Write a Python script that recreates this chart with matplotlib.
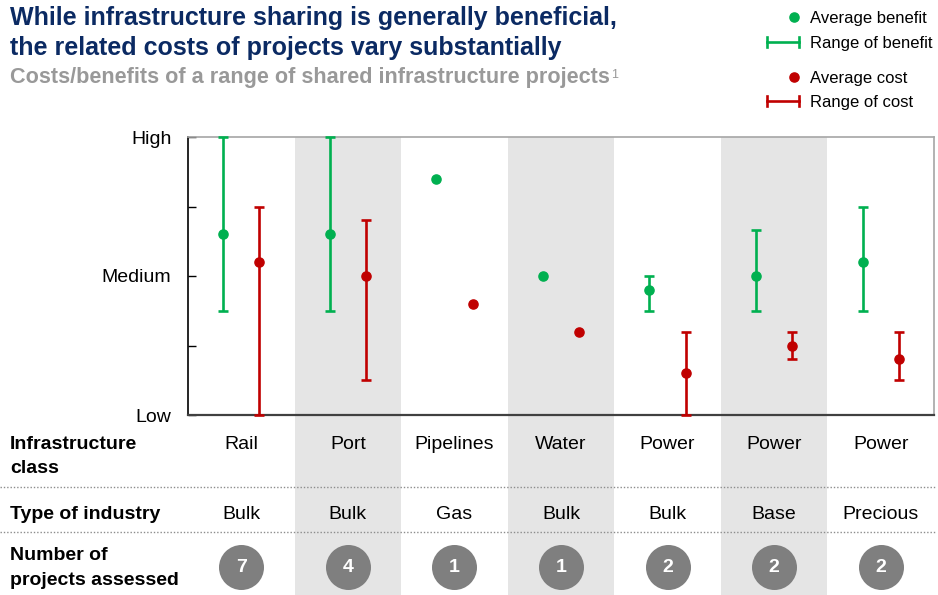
import matplotlib
matplotlib.use("Agg")
import matplotlib.pyplot as plt
import matplotlib.transforms as mtransforms
from matplotlib.patches import Rectangle
from matplotlib.lines import Line2D
import numpy as np

plt.rcParams['font.family'] = ['Liberation Sans', 'DejaVu Sans']

# ---- data -------------------------------------------------------------
infra_class = ["Rail", "Port", "Pipelines", "Water", "Power", "Power", "Power"]
industry = ["Bulk", "Bulk", "Gas", "Bulk", "Bulk", "Base", "Precious"]
n_projects = [7, 4, 1, 1, 2, 2, 2]

# scale: 0 = Low, 2 = Medium, 4 = High
benefit_avg = [2.6, 2.6, 3.4, 2.0, 1.8, 2.0, 2.2]
benefit_lo = [1.5, 1.5, None, None, 1.5, 1.5, 1.5]
benefit_hi = [4.0, 4.0, None, None, 2.0, 2.66, 3.0]

cost_avg = [2.2, 2.0, 1.6, 1.2, 0.6, 1.0, 0.8]
cost_lo = [0.0, 0.5, None, None, 0.0, 0.8, 0.5]
cost_hi = [3.0, 2.8, None, None, 1.2, 1.2, 1.2]

y_tick_labels = ["Low", "", "Medium", "", "High"]

# ---- style ------------------------------------------------------------
GREEN = "#00B050"
RED = "#C00000"
NAVY = "#0B2A63"
SUBGREY = "#999999"
SHADE = "#E5E5E5"
CIRCLE = "#7F7F7F"

W, H = 938, 595
fig = plt.figure(figsize=(W / 100, H / 100), dpi=100)


def fx(px):
    return px / W


def fy(py):
    return 1 - py / H


ax_left, ax_right, ax_top, ax_bottom = 188, 934, 137, 415
ax = fig.add_axes([fx(ax_left), fy(ax_bottom), fx(ax_right - ax_left),
                   (ax_bottom - ax_top) / H])

n = len(infra_class)
xs = np.arange(n)
off = 0.17
ax.set_xlim(-0.5, n - 0.5)
ax.set_ylim(0, 4)

# alternating column shading, running from the plot top down through the table
col_tr = mtransforms.blended_transform_factory(ax.transData, fig.transFigure)
for i in range(n):
    if i % 2 == 1:
        ax.add_patch(Rectangle((i - 0.5, 0), 1, fy(ax_top), transform=col_tr,
                               facecolor=SHADE, edgecolor="none",
                               clip_on=False, zorder=0))

lw = 1.9
for vals, lo, hi, color, dx in [
        (benefit_avg, benefit_lo, benefit_hi, GREEN, -off),
        (cost_avg, cost_lo, cost_hi, RED, off)]:
    for i in range(n):
        if lo[i] is not None:
            ax.errorbar(xs[i] + dx, vals[i],
                        yerr=[[vals[i] - lo[i]], [hi[i] - vals[i]]],
                        fmt="none", ecolor=color, elinewidth=lw,
                        capsize=3.6, capthick=lw, clip_on=False, zorder=3)
    ax.plot(xs + dx, vals, "o", color=color, markersize=6.6,
            linestyle="none", zorder=4, clip_on=False)

ax.set_yticks(range(5))
ax.set_yticklabels(y_tick_labels, fontsize=14)
ax.set_xticks([])
ax.tick_params(axis="y", direction="in", length=6, width=1, pad=12,
               color="black")
for side in ["top", "right"]:
    ax.spines[side].set_color("#A6A6A6")
    ax.spines[side].set_linewidth(1.2)
ax.spines["left"].set_color("black")
ax.spines["left"].set_linewidth(1.2)
ax.spines["bottom"].set_color("#404040")
ax.spines["bottom"].set_linewidth(1.6)
ax.patch.set_alpha(0)

# ---- table below the plot ----------------------------------------------
TS = 14
for i in range(n):
    ax.text(xs[i], fy(449), infra_class[i], transform=col_tr, ha="center",
            va="baseline", fontsize=TS, color="black")
    ax.text(xs[i], fy(519), industry[i], transform=col_tr, ha="center",
            va="baseline", fontsize=TS, color="black")
ax.scatter(xs, [fy(567)] * n, s=1050, color=CIRCLE, transform=col_tr,
           clip_on=False, zorder=3, linewidths=0)
for i in range(n):
    ax.text(xs[i], fy(567), str(n_projects[i]), transform=col_tr,
            ha="center", va="center", fontsize=14, fontweight="bold",
            color="white", zorder=5)

row_labels = [("Infrastructure", 449), ("class", 473),
              ("Type of industry", 519),
              ("Number of", 560), ("projects assessed", 585)]
for txt, by in row_labels:
    fig.text(fx(10), fy(by), txt, ha="left", va="baseline", fontsize=TS,
             fontweight="bold", color="black")

for ly in [487, 532]:
    fig.add_artist(Line2D([fx(0), fx(935)], [fy(ly), fy(ly)],
                          color="#8C8C8C", linewidth=1.0,
                          linestyle=(0, (1, 1.4)), zorder=5))

# ---- titles -------------------------------------------------------------
fig.text(fx(10), fy(25), "While infrastructure sharing is generally beneficial,",
         fontsize=18, fontweight="bold", color=NAVY, va="baseline")
fig.text(fx(10), fy(55), "the related costs of projects vary substantially",
         fontsize=18, fontweight="bold", color=NAVY, va="baseline")
sub = fig.text(fx(10), fy(83.5),
               "Costs/benefits of a range of shared infrastructure projects",
               fontsize=15.6, fontweight="bold", color=SUBGREY, va="baseline")
fig.canvas.draw()
bb = sub.get_window_extent()
fig.text(bb.x1 / W + fx(1.5), fy(78), "1", fontsize=9, color=SUBGREY,
         va="baseline")

# ---- legend -------------------------------------------------------------
LS = 12
leg_x_text = 810
fig.add_artist(Line2D([fx(794)], [fy(17)], marker="o", color=GREEN,
                      markersize=6.6, linestyle="none"))
fig.add_artist(Line2D([fx(794)], [fy(77)], marker="o", color=RED,
                      markersize=6.6, linestyle="none"))
for yy, col in [(42, GREEN), (101, RED)]:
    fig.add_artist(Line2D([fx(767), fx(799)], [fy(yy), fy(yy)], color=col,
                          linewidth=lw))
    for xe in (767, 799):
        fig.add_artist(Line2D([fx(xe), fx(xe)], [fy(yy - 5), fy(yy + 5)],
                              color=col, linewidth=lw))
for txt, yy in [("Average benefit", 17), ("Range of benefit", 42),
                ("Average cost", 77), ("Range of cost", 101)]:
    fig.text(fx(leg_x_text), fy(yy), txt, fontsize=LS, color="black",
             va="center_baseline", ha="left")

fig.savefig("out.png", dpi=100)
